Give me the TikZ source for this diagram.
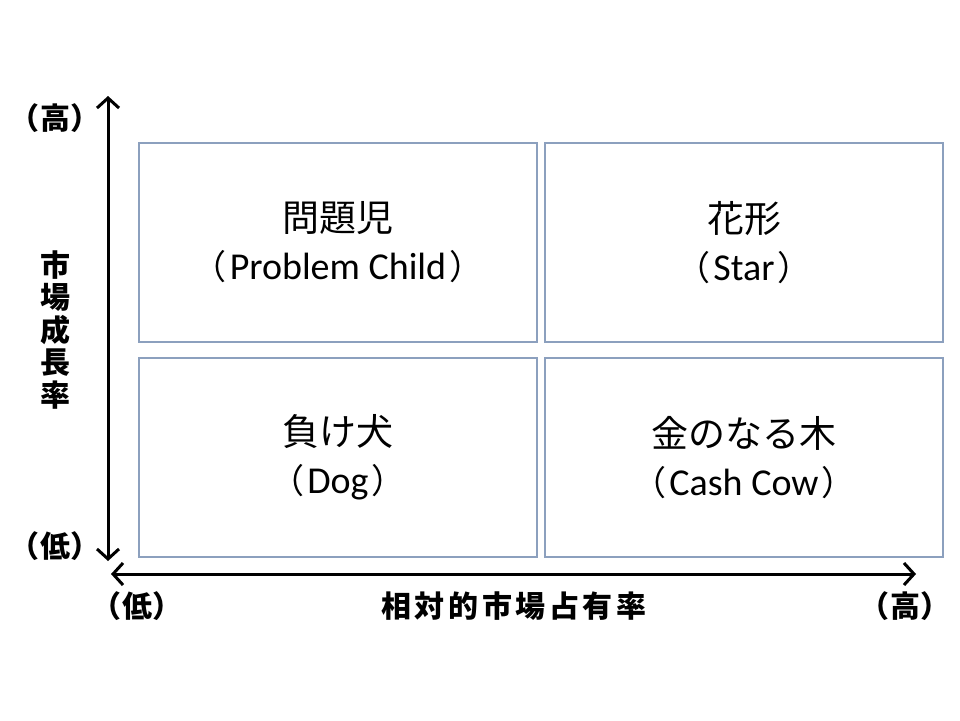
\documentclass[tikz,border=0pt]{standalone}
\usepackage{fontspec}
\usetikzlibrary{arrows.meta}
\setmainfont{Carlito}
\newfontfamily\jp{Noto Sans CJK JP}
\newfontfamily\jpax{Noto Sans CJK JP}[RawFeature=+palt,LetterSpace=6]
\newfontfamily\jpaxw{Noto Sans CJK JP}[LetterSpace=12]
\tikzset{
  quad/.style={draw={rgb,255:red,140;green,160;blue,190}, line width=1.3pt, fill=white,
    minimum width=398pt, minimum height=199pt, inner sep=0pt, align=center,
    font=\fontsize{38}{48}\selectfont},
  axisline/.style={line width=3pt, {Straight Barb[length=10pt,width=22pt,line width=3pt]}-{Straight Barb[length=10pt,width=22pt,line width=3pt]}},
  axlabel/.style={inner sep=0pt, font=\jpax\bfseries\fontsize{30}{32.5}\selectfont, align=center},
  axname/.style={inner sep=0pt, font=\jpaxw\bfseries\fontsize{30}{32.5}\selectfont}
}
\newcommand{\lp}{{\jp\fontsize{34}{48}\selectfont （}\hspace{3pt}}
\newcommand{\rp}{\hspace{3pt}{\jp\fontsize{34}{48}\selectfont ）}}
\newcommand{\ttl}[1]{{\jp\fontsize{37}{48}\selectfont #1}}
\begin{document}
\begin{tikzpicture}[x=1pt,y=-1pt]
\useasboundingbox (0,0) rectangle (960,720);
\node[quad] (pc) at (338,242.5) {\ttl{問題児}\\\lp Problem Child\rp};
\node[quad] (st) at (744,242.5) {\ttl{花形}\\\lp Star\rp};
\node[quad] (dg) at (338,457.5) {\ttl{負け犬}\\\lp Dog\rp};
\node[quad] (cc) at (744,457.5) {\ttl{金のなる木}\\\lp Cash Cow\rp};
\coordinate (vtop) at (108,96);
\coordinate (vbot) at (108,561);
\coordinate (hl) at (111,574);
\coordinate (hr) at (916,574);
\draw[axisline] (vbot) -- (vtop);
\draw[axisline] (hl) -- (hr);
\node[axlabel] (yhi) at (55,118) {（高）};
\node[axlabel] (ylo) at (55,546) {（低）};
\node[axlabel] (yname) at (55,330) {市\\場\\成\\長\\率};
\node[axlabel] (xlo) at (137,606) {（低）};
\node[axlabel] (xhi) at (905,606) {（高）};
\node[axname] (xname) at (514,606) {相対的市場占有率};
\end{tikzpicture}
\end{document}
